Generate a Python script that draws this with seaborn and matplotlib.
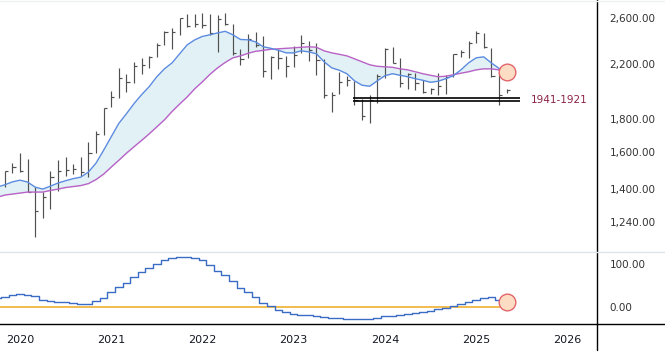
import numpy as np
import seaborn as sns
import matplotlib.pyplot as plt
from matplotlib.lines import Line2D
from matplotlib.ticker import NullLocator

# eixo x: meses desde jan/2020 (barras mensais de nov/2019 a mai/2025)
meses = list(range(-2, 65))
meses_media = list(range(-3, 65))

maximas = [1491, 1535, 1591, 1557, 1407, 1382, 1491, 1551, 1568, 1529,
           1568, 1655, 1722, 1878, 1997, 2169, 2123, 2217, 2249, 2265,
           2375, 2480, 2507, 2600, 2638, 2638, 2648, 2638, 2628, 2648,
           2544, 2324, 2454, 2471, 2436, 2265, 2324, 2265, 2349, 2445,
           2392, 2375, 2241, 1990, 2138, 2108, 2069, 1940, 1968, 2123,
           2332, 2341, 2249, 2130, 2130, 2077, 2018, 2130, 2115, 2282,
           2315, 2392, 2480, 2462, 2332, 2138, 2011]
minimas = [1407, 1480, 1486, 1382, 1174, 1259, 1300, 1387, 1464, 1475,
           1464, 1459, 1591, 1698, 1883, 1947, 1990, 2055, 2123, 2169,
           2257, 2358, 2324, 2445, 2517, 2517, 2507, 2445, 2298, 2535,
           2274, 2193, 2249, 2341, 2100, 2085, 2161, 2100, 2177, 2290,
           2225, 2115, 1947, 1851, 1975, 2033, 1898, 1792, 1773, 1912,
           2091, 2208, 2026, 2011, 2004, 1982, 1975, 1968, 1975, 2100,
           2257, 2249, 2375, 2332, 2100, 1898, 1982]
fechamentos = [1491, 1513, 1491, 1382, 1290, 1357, 1459, 1491, 1496, 1502,
               1486, 1591, 1704, 1878, 1952, 2091, 2062, 2185, 2193, 2257,
               2358, 2471, 2471, 2600, 2526, 2544, 2535, 2462, 2591, 2544,
               2290, 2241, 2409, 2358, 2146, 2257, 2249, 2185, 2274, 2375,
               2315, 2233, 1968, 1968, 2062, 2077, 1933, 1818, 1933, 2108,
               2324, 2208, 2055, 2123, 2055, 1990, 2011, 2033, 2100, 2282,
               2298, 2375, 2462, 2341, 2108, 1968, 2004]

media_rapida = [1407, 1419, 1434, 1443, 1433, 1407, 1397, 1412, 1428, 1440,
                1451, 1459, 1486, 1535, 1608, 1689, 1773, 1836, 1905, 1968,
                2026, 2100, 2161, 2208, 2282, 2358, 2401, 2431, 2445, 2462,
                2476, 2445, 2404, 2401, 2383, 2341, 2328, 2311, 2290, 2290,
                2307, 2298, 2282, 2217, 2169, 2150, 2123, 2069, 2036, 2029,
                2069, 2108, 2123, 2111, 2100, 2085, 2073, 2058, 2066, 2085,
                2108, 2153, 2208, 2249, 2257, 2208, 2165, 2138]
media_lenta = [1356, 1367, 1372, 1377, 1382, 1382, 1382, 1390, 1397, 1405,
               1410, 1415, 1425, 1446, 1475, 1513, 1551, 1591, 1629, 1667,
               1707, 1751, 1796, 1851, 1902, 1952, 2011, 2062, 2119, 2169,
               2212, 2249, 2265, 2286, 2303, 2311, 2320, 2324, 2328, 2332,
               2337, 2341, 2337, 2307, 2290, 2278, 2265, 2241, 2217, 2193,
               2181, 2177, 2173, 2161, 2153, 2138, 2123, 2111, 2100, 2104,
               2115, 2127, 2138, 2153, 2161, 2161, 2153, 2138]

oscilador = [22, 23, 29, 31, 29, 25, 17, 15, 12, 11,
             9, 8, 8, 13, 22, 34, 46, 57, 70, 81,
             91, 100, 109, 114, 116, 116, 114, 109, 97, 84,
             74, 60, 44, 34, 23, 9, 2, -6, -12, -16,
             -19, -19, -20, -24, -25, -26, -28, -28, -28, -27,
             -25, -22, -20, -18, -16, -13, -11, -9, -5, -2,
             2, 6, 11, 16, 21, 23, 16, 11]

suporte = [1941, 1921]
ticks_preco = [1240, 1400, 1600, 1800, 2200, 2600]
ticks_anos = [0, 12, 24, 36, 48, 60, 72]
rotulos_anos = ['2020', '2021', '2022', '2023', '2024', '2025', '2026']

sns.set_style("white")
plt.rcParams['font.family'] = ['DejaVu Sans']

W, H = 665, 353
fig = plt.figure(figsize=(W / 100, H / 100), dpi=100)
ax = fig.add_axes([0, 1 - 251 / H, 597 / W, 251 / H])
ax2 = fig.add_axes([0, 1 - 324 / H, 597 / W, 72 / H], sharex=ax)

cor_barra = '#505050'
ax.vlines(meses, minimas, maximas, color=cor_barra, lw=0.85)
ax.hlines(fechamentos, meses, np.array(meses) + 0.42, color=cor_barra, lw=0.85)

ax.fill_between(meses_media, media_rapida, media_lenta, color='#e2f1f5', lw=0, zorder=0)
sns.lineplot(x=meses_media, y=media_lenta, ax=ax, color='#b862c6', lw=1.0)
sns.lineplot(x=meses_media, y=media_rapida, ax=ax, color='#5b8be0', lw=1.0)

ax.hlines(suporte, 43.8, 65.8, color='black', lw=1.2)
ax.text(67.2, 1931, '1941-1921', color='#8b2346', fontsize=7.5, va='center', ha='left')
ax.plot(64, media_lenta[-1], 'o', ms=12, mfc='#fddcc4', mec='#e2656b', mew=1.0)

ax.set_yscale('log')
ax.set_ylim(1116, 2774)
ax.set_xlim(-2.63, 75.9)
ax.yaxis.tick_right()
ax.set_yticks(ticks_preco)
ax.set_yticklabels([f'{v:,.2f}' for v in ticks_preco])
ax.yaxis.set_minor_locator(NullLocator())
ax.tick_params(axis='y', length=0, pad=9, labelsize=7.5, labelcolor='#333333')
ax.tick_params(axis='x', length=0, labelbottom=False)
ax.set_xlabel('')
ax.set_ylabel('')
for lado in ['top', 'left', 'bottom']:
    ax.spines[lado].set_visible(False)
ax.spines['right'].set_color('black')
ax.spines['right'].set_linewidth(1.0)

# painel inferior: oscilador
ax2.hlines(0, -3, 64, color='#f0b030', lw=1.2)
sns.lineplot(x=meses_media, y=oscilador, ax=ax2, color='#3a6cc6', lw=1.0, drawstyle='steps-mid')
ax2.plot(64, oscilador[-1], 'o', ms=12, mfc='#fddcc4', mec='#e2656b', mew=1.0)
ax2.set_ylim(-39.5, 128)
ax2.yaxis.tick_right()
ax2.set_yticks([0, 100])
ax2.set_yticklabels(['0.00', '100.00'])
ax2.tick_params(axis='y', length=0, pad=9, labelsize=7.5, labelcolor='#333333')
ax2.set_xticks(ticks_anos)
ax2.set_xticklabels(rotulos_anos)
ax2.tick_params(axis='x', length=0, pad=8, labelsize=8, labelcolor='#131722')
ax2.set_xlabel('')
ax2.set_ylabel('')
for lado in ['top', 'left']:
    ax2.spines[lado].set_visible(False)
for lado in ['right', 'bottom']:
    ax2.spines[lado].set_color('black')
    ax2.spines[lado].set_linewidth(1.0)

# divisórias
fig.add_artist(Line2D([0, 1], [1 - 252 / H, 1 - 252 / H], color='#e0e3eb', lw=1.0))
fig.add_artist(Line2D([0, 1], [1 - 0.5 / H, 1 - 0.5 / H], color='#eef0f3', lw=1.0))
fig.add_artist(Line2D([597 / W, 1], [1 - 324 / H, 1 - 324 / H], color='black', lw=1.0))
fig.add_artist(Line2D([597 / W, 597 / W], [1 - 324 / H, 1 - 350 / H], color='black', lw=1.0))

fig.savefig('out.png', dpi=100)
